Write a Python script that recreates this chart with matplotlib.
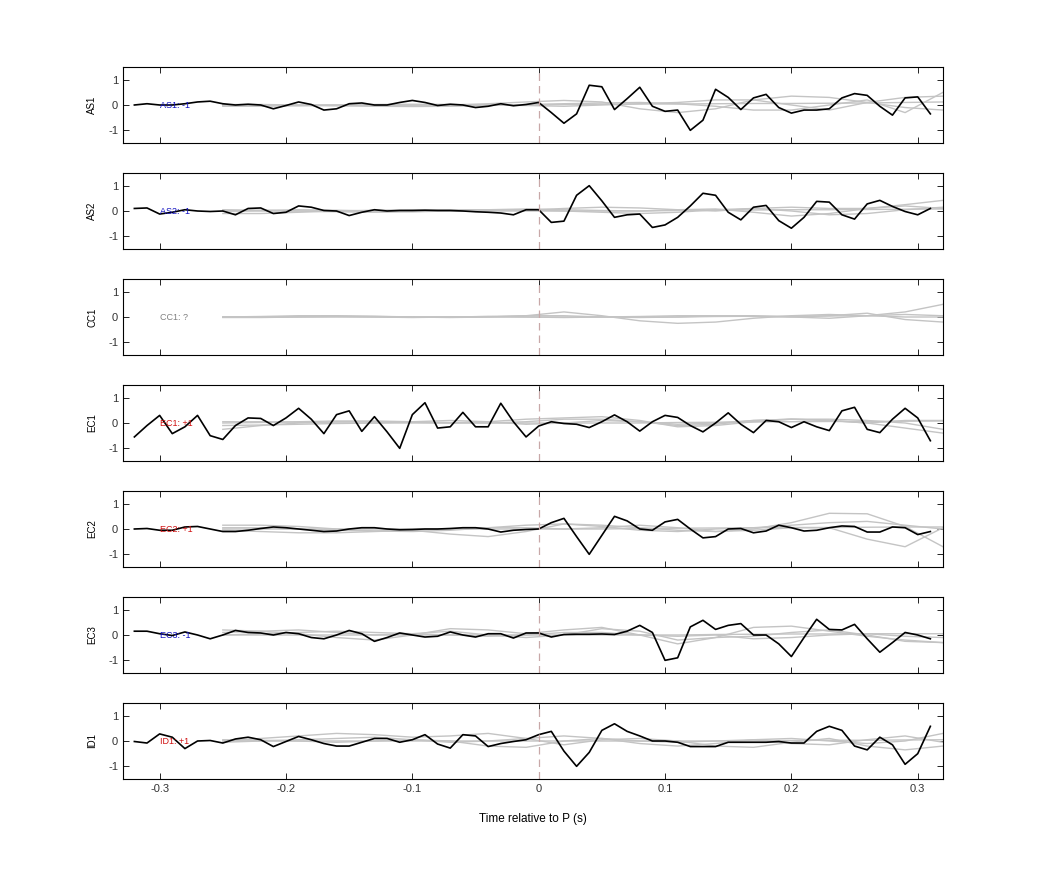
import numpy as np
import matplotlib
matplotlib.use("Agg")
import matplotlib.pyplot as plt

plt.rcParams['font.family'] = ['Liberation Sans', 'DejaVu Sans']

t = np.round(np.arange(-0.32, 0.315, 0.01), 2)
tg = np.round(np.arange(-0.25, 0.321, 0.03), 2)

names = ["AS1", "AS2", "CC1", "EC1", "EC2", "EC3", "ID1"]
labels = ["AS1: -1", "AS2: -1", "CC1: ?", "EC1: +1", "EC2: +1", "EC3: -1", "ID1: +1"]
label_colors = ["#1010c0", "#1010c0", "#808080", "#d01010", "#d01010", "#1010c0", "#d01010"]

AS1 = [0.0,0.05,0.0,0.0,0.05,0.12,0.15,0.05,0.0,0.03,0.0,-0.15,-0.02,0.12,0.02,-0.2,-0.15,0.05,0.08,0.0,0.0,0.1,0.18,0.1,-0.02,0.03,0.0,-0.1,-0.05,0.05,-0.03,0.02,
       0.1,-0.3,-0.72,-0.35,0.78,0.72,-0.18,0.25,0.7,-0.05,-0.25,-0.2,-1.0,-0.6,0.62,0.3,-0.18,0.28,0.42,-0.1,-0.32,-0.2,-0.2,-0.15,0.28,0.45,0.38,-0.05,-0.4,0.28,0.32,-0.35]
AS2 = [0.1,0.12,-0.12,-0.05,0.05,0.0,-0.02,0.0,-0.15,0.1,0.12,-0.1,-0.05,0.2,0.15,0.02,0.0,-0.18,-0.05,0.05,0.0,0.02,0.02,0.03,0.02,0.02,0.0,-0.03,-0.05,-0.08,-0.15,0.05,
       0.05,-0.45,-0.4,0.62,1.0,0.4,-0.25,-0.15,-0.12,-0.65,-0.55,-0.25,0.2,0.7,0.62,-0.05,-0.35,0.15,0.22,-0.38,-0.68,-0.25,0.38,0.35,-0.15,-0.32,0.28,0.42,0.18,-0.02,-0.15,0.1]
CC1 = None
EC1 = [-0.55,-0.1,0.3,-0.42,-0.15,0.3,-0.5,-0.65,-0.1,0.2,0.18,-0.1,0.2,0.58,0.15,-0.42,0.33,0.48,-0.33,0.25,-0.35,-1.0,0.33,0.8,-0.2,-0.15,0.42,-0.15,-0.15,0.78,0.05,-0.55,
       -0.12,0.05,-0.02,-0.05,-0.18,0.05,0.32,0.05,-0.32,0.05,0.3,0.22,-0.1,-0.35,0.0,0.4,-0.05,-0.38,0.1,0.05,-0.18,0.05,-0.15,-0.3,0.48,0.62,-0.25,-0.38,0.15,0.58,0.2,-0.7]
EC2 = [0.0,0.02,-0.05,-0.05,0.08,0.1,0.0,-0.1,-0.1,-0.05,0.02,0.08,0.05,0.0,-0.05,-0.1,-0.08,0.0,0.05,0.05,0.0,-0.03,-0.02,0.0,0.0,0.02,0.05,0.05,0.0,-0.12,-0.05,-0.02,
       0.0,0.25,0.42,-0.3,-1.0,-0.25,0.5,0.32,0.0,-0.05,0.28,0.38,0.0,-0.35,-0.3,0.0,0.02,-0.15,-0.08,0.15,0.05,-0.08,-0.05,0.05,0.12,0.1,-0.12,-0.12,0.08,0.05,-0.22,-0.1]
EC3 = [0.15,0.15,0.05,-0.02,0.12,0.0,-0.15,0.0,0.18,0.1,0.08,0.0,0.1,0.05,-0.1,-0.15,0.0,0.18,0.05,-0.25,-0.1,0.08,0.0,-0.08,-0.05,0.12,0.0,-0.08,0.05,0.05,-0.12,0.08,
       0.08,-0.08,0.02,0.03,0.03,0.04,0.02,0.15,0.38,0.1,-1.0,-0.9,0.32,0.58,0.22,0.38,0.45,0.0,0.0,-0.35,-0.85,-0.1,0.62,0.22,0.2,0.42,-0.15,-0.68,-0.3,0.1,0.0,-0.15]
ID1 = [-0.02,-0.08,0.28,0.15,-0.3,0.0,0.02,-0.08,0.08,0.15,0.05,-0.22,-0.02,0.18,0.05,-0.1,-0.2,-0.2,-0.05,0.1,0.1,-0.05,0.05,0.25,-0.12,-0.28,0.25,0.2,-0.22,-0.1,-0.02,0.05,
       0.25,0.38,-0.4,-1.0,-0.45,0.42,0.68,0.38,0.2,0.0,0.0,-0.05,-0.22,-0.22,-0.22,-0.05,-0.05,-0.05,-0.05,-0.02,-0.08,-0.08,0.38,0.58,0.42,-0.2,-0.35,0.15,-0.15,-0.92,-0.5,0.58]
black = [AS1, AS2, CC1, EC1, EC2, EC3, ID1]

# gray comparison traces (sampled every 0.03 s from -0.25 s)
gray = [
    [[0.0,0.0,-0.02,-0.03,-0.03,-0.02,0.0,0.05,0.12,0.18,0.12,-0.15,-0.3,-0.15,0.2,0.35,0.3,0.1,-0.1,-0.2],
     [-0.05,-0.05,-0.03,0.0,0.02,0.03,0.02,0.0,-0.02,-0.05,0.0,0.05,0.1,0.2,0.2,0.0,-0.2,0.1,0.3,0.35],
     [0.02,0.02,0.0,-0.02,-0.05,-0.06,-0.05,-0.02,0.02,0.05,0.08,0.1,0.05,-0.05,-0.2,-0.2,0.0,0.2,-0.3,0.5],
     [0.0,0.0,0.0,0.0,0.0,0.0,0.0,0.0,0.0,0.02,0.03,0.04,0.04,0.05,0.06,0.06,0.07,0.08,0.1,0.12]],
    [[-0.1,-0.1,-0.05,0.0,0.03,0.05,0.05,0.05,0.03,0.1,0.15,0.12,0.05,0.0,0.1,0.15,0.1,0.1,0.25,0.42],
     [0.0,0.02,0.05,0.03,0.0,-0.02,0.0,0.03,0.05,0.0,-0.05,-0.1,-0.05,0.05,0.1,0.0,-0.15,-0.1,0.05,0.15],
     [0.05,0.03,0.0,-0.03,-0.05,-0.03,0.0,0.05,0.08,0.05,0.02,0.0,0.05,0.08,-0.05,-0.2,-0.1,0.1,0.2,0.1],
     [0.0,0.0,0.0,0.0,0.0,0.0,0.0,0.0,0.0,0.0,0.0,0.0,0.02,0.03,0.04,0.05,0.05,0.06,0.07,0.08]],
    [[0.0,0.0,0.02,0.03,0.02,0.0,-0.02,0.0,0.05,0.2,0.05,-0.15,-0.25,-0.2,-0.05,0.05,0.1,0.05,0.0,0.0],
     [0.0,0.02,0.05,0.05,0.03,0.0,0.0,0.02,0.05,0.05,0.0,-0.02,0.0,0.05,0.05,0.0,-0.05,0.05,0.2,0.5],
     [-0.02,-0.02,0.0,0.02,0.0,-0.02,0.0,0.02,0.0,-0.02,0.0,0.02,0.05,0.05,0.02,0.0,0.05,0.15,-0.1,-0.2],
     [0.0,0.0,0.0,0.0,0.0,0.0,0.0,0.0,0.0,0.0,0.0,0.0,0.0,0.02,0.03,0.03,0.04,0.05,0.1,0.05]],
    [[-0.25,-0.1,0.0,0.05,0.05,0.03,0.0,0.05,0.15,0.2,0.25,0.1,-0.15,-0.1,0.05,0.15,0.1,0.0,-0.2,-0.4],
     [0.0,0.02,0.05,0.08,0.08,0.05,0.02,0.0,0.05,0.15,0.15,0.05,-0.05,0.0,0.1,0.15,0.15,0.1,0.0,-0.25],
     [-0.1,-0.08,-0.05,-0.02,0.0,0.05,0.1,0.05,-0.05,0.0,0.1,0.05,-0.1,-0.05,0.1,0.15,0.1,0.0,0.1,0.1],
     [0.05,0.05,0.03,0.0,0.0,0.0,0.0,0.0,0.0,0.0,0.0,0.0,0.02,0.03,0.04,0.05,0.06,0.06,0.07,0.08]],
    [[0.15,0.15,0.1,0.0,-0.08,-0.1,-0.05,0.05,0.15,0.2,0.15,0.05,-0.05,-0.1,0.0,0.25,0.62,0.6,0.1,-0.7],
     [-0.05,-0.1,-0.15,-0.15,-0.1,-0.05,-0.2,-0.3,-0.1,0.2,0.1,-0.05,-0.1,0.0,0.05,0.15,0.25,0.3,0.15,0.0],
     [0.05,0.05,0.0,-0.05,-0.08,-0.05,0.0,0.05,0.05,0.0,0.05,0.15,0.05,-0.1,-0.05,0.05,0.05,-0.4,-0.7,0.05],
     [0.0,0.0,0.0,0.0,0.0,0.0,0.0,0.0,0.0,0.0,0.0,0.02,0.03,0.04,0.05,0.06,0.06,0.07,0.08,0.08]],
    [[0.2,0.15,0.05,-0.1,-0.2,0.0,0.25,0.2,0.05,0.2,0.3,0.0,-0.35,-0.1,0.3,0.35,0.15,-0.05,-0.2,-0.3],
     [0.1,0.15,0.2,0.1,0.0,0.05,0.15,0.0,-0.1,0.0,0.25,0.15,-0.2,-0.1,-0.05,0.1,0.2,0.0,-0.25,-0.3],
     [0.0,0.05,0.1,0.15,0.1,0.05,0.0,-0.05,0.0,0.1,0.1,0.0,-0.05,0.0,-0.15,-0.1,0.0,0.05,-0.05,-0.1],
     [0.0,0.0,0.0,0.0,0.0,0.0,0.0,0.0,0.0,0.0,0.0,0.0,0.0,0.02,0.03,0.04,0.04,0.05,0.05,0.05]],
    [[0.0,0.1,0.2,0.3,0.25,0.15,0.2,0.3,0.1,0.2,0.1,-0.1,-0.2,-0.1,0.05,0.1,0.0,-0.1,0.0,0.3],
     [-0.05,0.0,0.05,0.1,0.15,0.05,-0.05,0.0,0.1,-0.15,0.05,0.1,0.0,-0.2,-0.25,-0.05,0.1,-0.2,-0.35,-0.2],
     [0.05,0.03,0.0,-0.05,0.0,0.05,0.0,-0.2,-0.25,0.0,0.1,0.0,-0.05,0.0,0.05,-0.1,-0.15,0.05,0.2,-0.05],
     [0.0,0.0,0.0,0.0,0.0,0.0,0.0,0.0,0.0,0.0,0.0,0.0,0.0,0.0,0.0,0.02,0.03,0.03,0.04,0.05]],
]

W, H = 1042, 875
fig = plt.figure(figsize=(W/100, H/100), dpi=100)
tops = [67, 173, 279, 385, 491, 597, 703]
ax_h = 76
left, right = 123, 943
xticks = [-0.3, -0.2, -0.1, 0, 0.1, 0.2, 0.3]
for i, name in enumerate(names):
    ax = fig.add_axes([left/W, (H - tops[i] - ax_h)/H, (right-left)/W, ax_h/H])
    for g in gray[i]:
        ax.plot(tg, g, color='#c4c4c4', lw=1.0)
    if black[i] is not None:
        ax.plot(t, black[i], color='black', lw=1.2)
    ax.axvline(0, color='#c8a8a8', lw=0.9, ls=(0, (6, 4)))
    ax.set_xlim(-0.329, 0.32)
    ax.set_ylim(-1.5, 1.5)
    ax.set_yticks([-1, 0, 1])
    ax.set_yticklabels(['-1', '0', '1'])
    ax.set_xticks(xticks)
    ax.tick_params(direction='in', top=True, right=True, labelsize=8, length=4, width=0.6,
                   labelcolor='#333333')
    if i < len(names) - 1:
        ax.set_xticklabels([])
    else:
        ax.set_xticklabels(['-0.3', '-0.2', '-0.1', '0', '0.1', '0.2', '0.3'])
        ax.set_xlabel('Time relative to P (s)', fontsize=8.5, labelpad=14)
    ax.set_ylabel(name, fontsize=7, labelpad=8)
    ax.text(-0.3, 0, labels[i], color=label_colors[i], fontsize=6.5, va='center', ha='left')
    for s in ax.spines.values():
        s.set_linewidth(0.8)

fig.savefig('out.png', dpi=100)
